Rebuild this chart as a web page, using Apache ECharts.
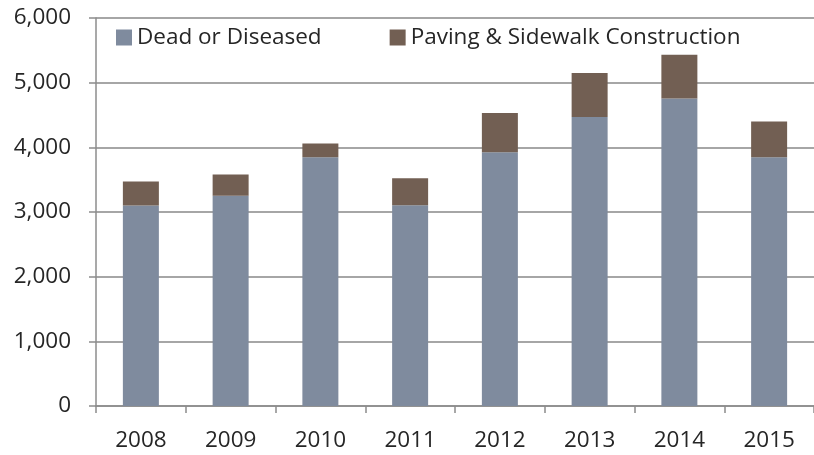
<!DOCTYPE html>
<html>
<head>
<meta charset="utf-8">
<script src="https://cdn.jsdelivr.net/npm/echarts@6/dist/echarts.min.js"></script>
<style>html,body{margin:0;padding:0;background:#fff}#c{width:814px;height:455px}</style>
</head>
<body>
<div id="c"></div>
<script>
const categories = ['2008','2009','2010','2011','2012','2013','2014','2015'];
const deadOrDiseased = [3100, 3250, 3845, 3105, 3925, 4470, 4755, 3845];
const pavingSidewalk = [370, 330, 215, 415, 605, 680, 675, 555];
const seriesNames = ['Dead or Diseased', 'Paving & Sidewalk Construction'];

const font = 'Open Sans';
const chart = echarts.init(document.getElementById('c'));
chart.setOption({
  animation: false,
  textStyle: { fontFamily: font },
  grid: { left: 96, top: 18, width: 720, height: 388, containLabel: false },
  legend: {
    left: 111, top: 21,
    itemWidth: 16, itemHeight: 16, itemGap: 68,
    icon: 'rect',
    textStyle: { fontFamily: font, fontSize: 22.5, color: '#262626' },
    data: seriesNames
  },
  xAxis: {
    type: 'category', data: categories,
    axisLine: { lineStyle: { color: '#8c8c8c', width: 1.5 } },
    axisTick: { show: true, length: 7, lineStyle: { color: '#8c8c8c', width: 1.5 } },
    axisLabel: { fontSize: 22.5, color: '#262626', margin: 23, fontFamily: font }
  },
  yAxis: {
    type: 'value', min: 0, max: 6000, interval: 1000,
    axisLine: { show: true, lineStyle: { color: '#8c8c8c', width: 1.5 } },
    axisTick: { show: true, length: 7, lineStyle: { color: '#8c8c8c', width: 1.5 } },
    splitLine: { lineStyle: { color: '#a6a6a6', width: 2 } },
    axisLabel: { fontSize: 22.5, color: '#262626', margin: 25, fontFamily: font,
      formatter: v => v.toLocaleString('en-US') }
  },
  series: [
    { name: seriesNames[0], type: 'bar', stack: 't', data: deadOrDiseased, barWidth: 36,
      itemStyle: { color: '#7f8b9e' } },
    { name: seriesNames[1], type: 'bar', stack: 't', data: pavingSidewalk, barWidth: 36,
      itemStyle: { color: '#725f53' } }
  ]
});
</script>
</body>
</html>
